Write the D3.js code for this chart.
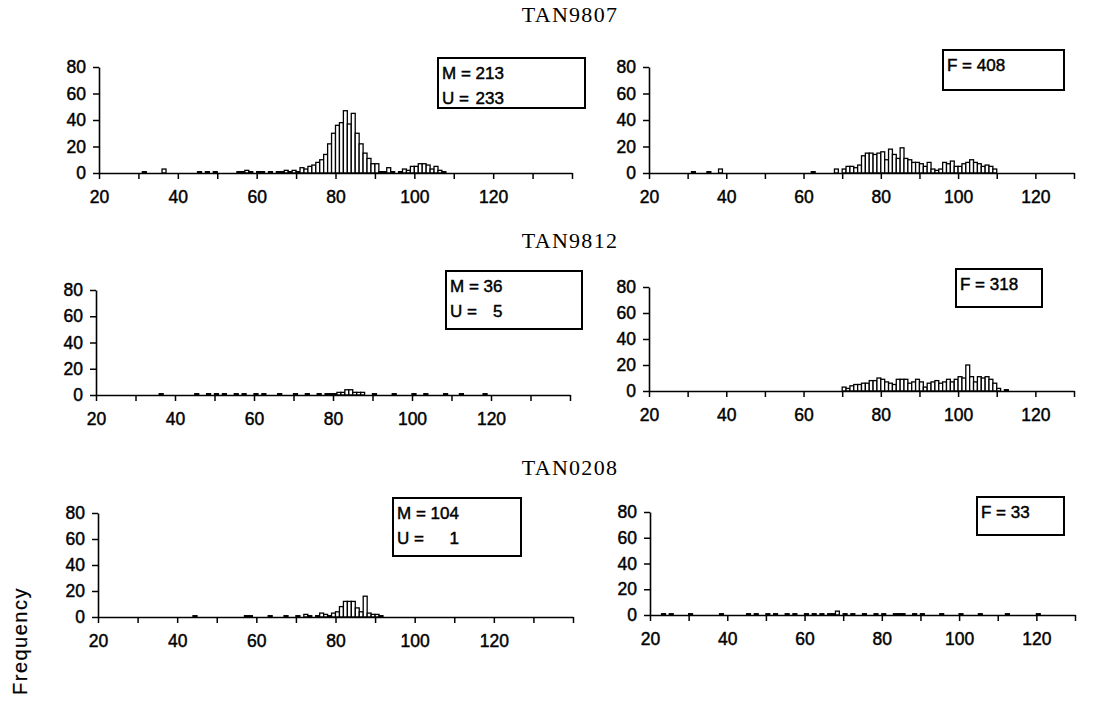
<!DOCTYPE html>
<html>
<head>
<meta charset="utf-8">
<script src="https://cdn.jsdelivr.net/npm/d3@7"></script>
<style>
body { margin: 0; background: #fff; }
text { font-family: "Liberation Sans", Arial, sans-serif; }
</style>
</head>
<body>
<svg id="chart" width="1119" height="706"></svg>
<script>
// length class (cm) and frequency
var tan9807_mu = [[31,1],[36,3],[45,1],[47,1],[49,1],[55,1],[56,1],[57,2],[58,1],[60,1],[61,1],[63,1],[65,1],[66,1],[67,2],[68,1],[69,2],[70,1],
  [71,4],[72,3],[73,5],[74,6],[75,8],[76,10],[77,14],[78,22],[79,30],[80,36],[81,38],[82,47],[83,37],[84,45],[85,30],[86,22],[87,15],[88,11],
  [89,7],[90,7],[91,1],[92,1],[93,4],[94,1],[96,1],[97,3],[98,2],[99,5],[100,5],[101,7],[102,7],[103,6],[104,3],[105,5],[106,2],[107,1]];
var tan9807_f = [[31,1],[35,1],[38,3],[62,1],[68,3],[70,3],[71,5],[72,5],[73,4],[74,6],[75,13],[76,15],[77,15],[78,14],[79,15],[80,16],
  [81,10],[82,18],[83,14],[84,11],[85,19],[86,11],[87,10],[88,8],[89,8],[90,7],[91,5],[92,8],[93,3],[94,2],[95,3],[96,8],[97,7],[98,9],
  [99,5],[100,5],[101,7],[102,8],[103,10],[104,8],[105,7],[106,5],[107,6],[108,5],[109,3]];
var tan9812_mu = [[36,1],[45,1],[48,1],[50,1],[52,1],[55,1],[57,1],[60,1],[62,1],[66,1],[70,1],[73,1],[76,1],[78,1],[79,1],[80,1],
  [81,2],[82,2],[83,4],[84,4],[85,2],[86,2],[87,2],[90,1],[95,1],[100,1],[103,1],[108,1],[112,1],[118,1]];
var tan9812_f = [[70,3],[71,2],[72,4],[73,5],[74,5],[75,6],[76,6],[77,8],[78,8],[79,10],[80,9],[81,7],[82,6],[83,5],[84,9],[85,9],
  [86,9],[87,6],[88,7],[89,9],[90,7],[91,3],[92,6],[93,7],[94,8],[95,6],[96,7],[97,9],[98,7],[99,9],[100,11],[101,10],[102,20],
  [103,11],[104,7],[105,11],[106,10],[107,11],[108,9],[109,6],[110,2],[112,1]];
var tan0208_mu = [[44,1],[57,1],[58,1],[63,1],[67,1],[70,1],[72,2],[73,1],[75,1],[76,3],[77,2],[78,1],[79,3],[80,4],[81,8],
  [82,12],[83,12],[84,12],[85,7],[86,4],[87,16],[88,3],[89,2],[90,2],[91,1]];
var tan0208_f = [[23,1],[25,1],[30,1],[38,1],[45,1],[47,1],[50,1],[52,1],[55,1],[57,1],[60,1],[62,1],[64,1],[66,1],[67,1],[68,3],
  [70,1],[72,1],[75,1],[78,1],[80,1],[83,1],[84,1],[85,1],[88,1],[90,1],[95,1],[100,1],[105,1],[112,1],[120,1]];

var cruises = ["TAN9807", "TAN9812", "TAN0208"];
var sexLabels = [["M =", "U ="], ["F ="]];
var sexCounts = [[[213, 233], [408]], [[36, 5], [318]], [[104, 1], [33]]];
var yTicks = [0, 20, 40, 60, 80];
var xLabels = [20, 40, 60, 80, 100, 120];
var yLabel = "Frequency";

// panel frames (pixels)
var rows = [
  {title: 14, left: {ax: 99, end: 572, top: 67, bottom: 173, box: [438, 58, 147, 50]},
              right: {ax: 649, end: 1074, top: 67, bottom: 173, box: [943, 50, 121, 40]}},
  {title: 240, left: {ax: 96, end: 570, top: 290, bottom: 395, box: [446, 271, 136, 58]},
               right: {ax: 649, end: 1074, top: 287, bottom: 391, box: [956, 269, 86, 38]}},
  {title: 467, left: {ax: 98, end: 573, top: 513, bottom: 617, box: [393, 498, 128, 58]},
               right: {ax: 650, end: 1075, top: 512, bottom: 615, box: [977, 497, 87, 38]}}
];
var series = [[tan9807_mu, tan9807_f], [tan9812_mu, tan9812_f], [tan0208_mu, tan0208_f]];

var svg = d3.select("#chart");

// scanned text looks heavy, so give it a thin outline
function inked(sel, size) {
  return sel.style("font-size", size + "px").attr("fill", "#000")
    .attr("stroke", "#000").attr("stroke-width", 0.45);
}

function drawPanel(f, data, xmax, labels, counts) {
  var x = d3.scaleLinear().domain([20, xmax]).range([f.ax, f.end]);
  var y = d3.scaleLinear().domain([0, 80]).range([f.bottom, f.top]);
  var g = svg.append("g");

  g.append("g").selectAll("rect")
    .data(data)
    .join("rect")
    .attr("x", d => x(d[0]))
    .attr("width", x(21) - x(20))
    .attr("y", d => y(d[1]))
    .attr("height", d => y(0) - y(d[1]))
    .attr("fill", "#fff")
    .attr("stroke", "#000")
    .attr("stroke-width", 1.3);

  var xAxis = d3.axisBottom(x)
    .tickValues(d3.range(20, xmax + 1, 10))
    .tickSize(6).tickSizeOuter(0).tickPadding(12)
    .tickFormat(d => xLabels.indexOf(d) >= 0 ? d : "");
  var gx = g.append("g").attr("transform", "translate(0," + f.bottom + ")").call(xAxis);

  var yAxis = d3.axisLeft(y).tickValues(yTicks).tickSize(6).tickSizeOuter(0).tickPadding(7);
  var gy = g.append("g").attr("transform", "translate(" + f.ax + ",0)").call(yAxis);

  [gx, gy].forEach(a => {
    a.select(".domain").attr("stroke", "#000").attr("stroke-width", 1.6);
    a.selectAll(".tick line").attr("stroke", "#000").attr("stroke-width", 1.5);
    inked(a.selectAll(".tick text"), 17.5)
      .style("font-family", "'Liberation Sans', Arial, sans-serif");
  });

  // count box
  var b = f.box;
  g.append("rect").attr("x", b[0]).attr("y", b[1]).attr("width", b[2]).attr("height", b[3])
    .attr("fill", "#fff").attr("stroke", "#000").attr("stroke-width", 2);
  var first = inked(g.append("text").attr("x", b[0] + 4).attr("y", b[1] + 15).attr("dy", "0.35em"), 17)
    .text(labels[0] + " " + counts[0]);
  var numEnd = b[0] + 4 + first.node().getComputedTextLength();
  for (var i = 1; i < labels.length; i++) {
    var ty = b[1] + 15 + i * 25;
    inked(g.append("text").attr("x", b[0] + 4).attr("y", ty).attr("dy", "0.35em"), 17).text(labels[i]);
    inked(g.append("text").attr("x", numEnd).attr("y", ty).attr("dy", "0.35em")
      .attr("text-anchor", "end"), 17).text(counts[i]);
  }
}

rows.forEach((r, i) => {
  svg.append("text").attr("x", 570).attr("y", r.title).attr("dy", "0.35em")
    .attr("text-anchor", "middle")
    .style("font-family", "'Liberation Serif', 'Times New Roman', serif")
    .style("font-size", "22px").style("letter-spacing", "1.3px")
    .text(cruises[i]);
  drawPanel(r.left, series[i][0], 140, sexLabels[0], sexCounts[i][0]);
  drawPanel(r.right, series[i][1], 130, sexLabels[1], sexCounts[i][1]);
});

inked(svg.append("text")
  .attr("transform", "translate(20,641) rotate(-90)")
  .attr("text-anchor", "middle").attr("dy", "0.35em"), 20)
  .attr("stroke-width", 0.2)
  .style("letter-spacing", "1.5px")
  .text(yLabel);
</script>
</body>
</html>
